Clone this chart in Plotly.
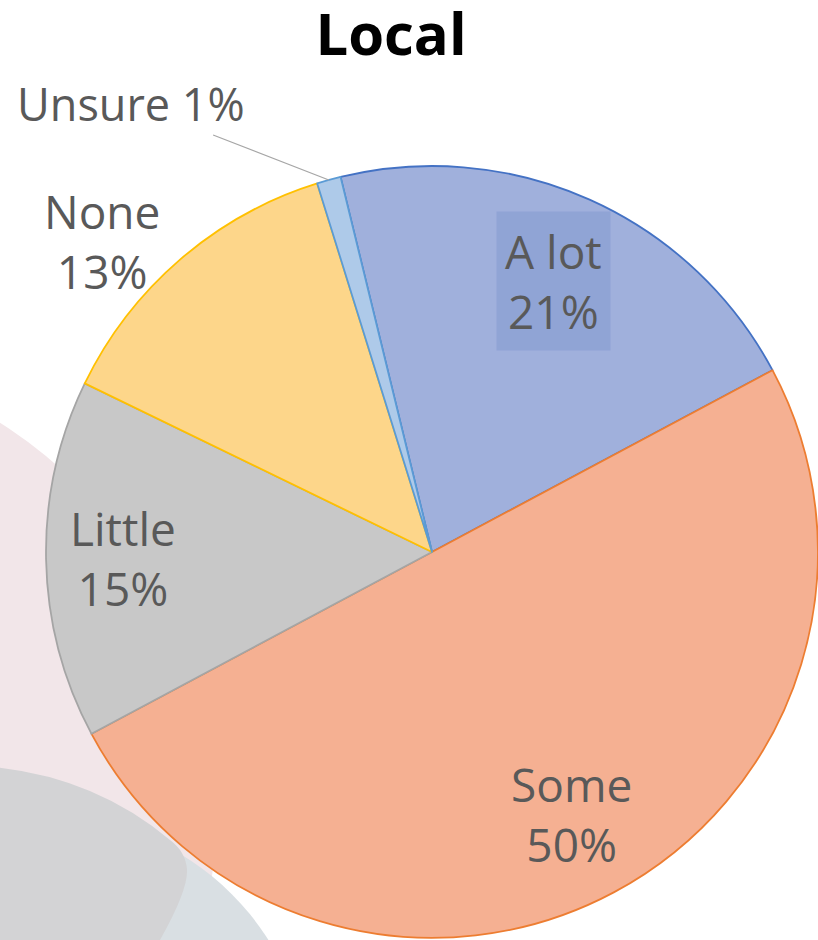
import numpy as np
import plotly.graph_objects as go

labels = ["A lot", "Some", "Little", "None", "Unsure"]
values = [21, 50, 15, 13, 1]

fill_colors = ["#A0B0DC", "#F5B092", "#C8C8C8", "#FDD68A", "#AECAE9"]
line_colors = ["#4472C4", "#ED7D31", "#A5A5A5", "#FFC000", "#5B9BD5"]

W, H = 818, 940
CX, CY, R = 432, 552, 386     # pie centre / radius in pixels (from the domain below)
START = -13.7                  # first slice starts this many degrees from 12 o'clock

# label placement (fraction of radius, angular nudge in degrees)
label_radius = [0.77, 0.77, 0.80, 1.175, 1.0]
label_shift = [0, 0, 0, -6, 0]

TEXT_COLOR = "#595959"
FONT = "Open Sans"


def px(x, y):
    return x / W, 1 - y / H


def path(cmds):
    # cmds: list of (letter, [(x, y), ...]) in pixels -> svg path in paper units
    out = []
    for letter, pts in cmds:
        coords = " ".join("%.5f,%.5f" % px(x, y) for x, y in pts)
        out.append(f"{letter}{coords}")
    return " ".join(out) + " Z"


fig = go.Figure()
fig.add_trace(go.Pie(
    labels=labels,
    values=values,
    sort=False,
    direction="clockwise",
    rotation=START,
    textinfo="none",
    hoverinfo="label+percent",
    marker=dict(colors=fill_colors, line=dict(color=line_colors, width=1.8)),
    domain=dict(x=[46 / W, 1], y=[0, 776 / H]),
    showlegend=False,
))

# labels placed at the slice mid angles
total = sum(values)
cum = np.cumsum(values)
for i, (lab, v) in enumerate(zip(labels, values)):
    mid = START + 360 * (cum[i] - v / 2) / total + label_shift[i]
    rad = np.radians(mid)
    r = label_radius[i] * R
    fx, fy = px(CX + r * np.sin(rad), CY - r * np.cos(rad))
    pct = round(100 * v / total)
    if lab == "Unsure":
        fig.add_annotation(
            x=fx, y=fy, xref="paper", yref="paper",
            text=f"{lab} {pct}%", showarrow=True, arrowhead=0, arrowwidth=1.2,
            arrowcolor="#A6A6A6", ax=-198, ay=-77, standoff=0,
            xanchor="center", yanchor="middle",
            font=dict(family=FONT, size=45, color=TEXT_COLOR),
        )
        continue
    fig.add_annotation(
        x=fx, y=fy, xref="paper", yref="paper", showarrow=False,
        text=f"{lab}<br>{pct}%", align="center",
        xanchor="center", yanchor="middle",
        font=dict(family=FONT, size=46, color=TEXT_COLOR),
        bgcolor="rgba(110,135,200,0.3)" if lab == "A lot" else None,
        borderpad=8,
    )

# faded background shapes at the lower left
for (cx, cy, r, col) in [(-250, 816, 466, "#F2E6E9"),
                         (43, 1083, 267, "#D9DFE3")]:
    x0, y1 = px(cx - r, cy - r)
    x1, y0 = px(cx + r, cy + r)
    fig.add_shape(type="circle", xref="paper", yref="paper",
                  x0=x0, x1=x1, y0=y0, y1=y1,
                  fillcolor=col, line=dict(width=0), layer="below")

gray_blob = path([
    ("M", [(-20, 766)]),
    ("Q", [(90, 773), (170, 840)]),
    ("Q", [(186, 852), (187, 870)]),
    ("Q", [(188, 890), (160, 940)]),
    ("L", [(140, 990)]),
    ("L", [(-20, 990)]),
])
fig.add_shape(type="path", xref="paper", yref="paper", path=gray_blob,
              fillcolor="#D3D3D5", line=dict(width=0), layer="below")

fig.update_layout(
    width=W, height=H,
    margin=dict(l=0, r=0, t=0, b=0),
    paper_bgcolor="white",
    plot_bgcolor="white",
    title=dict(text="<b>Local</b>", x=391 / W, y=1 - 35 / H, xanchor="center",
               yanchor="middle", font=dict(family=FONT, size=58, color="black")),
)

fig.write_html("out.html", config={"displayModeBar": False},
               post_script="document.body.style.margin='0';")
